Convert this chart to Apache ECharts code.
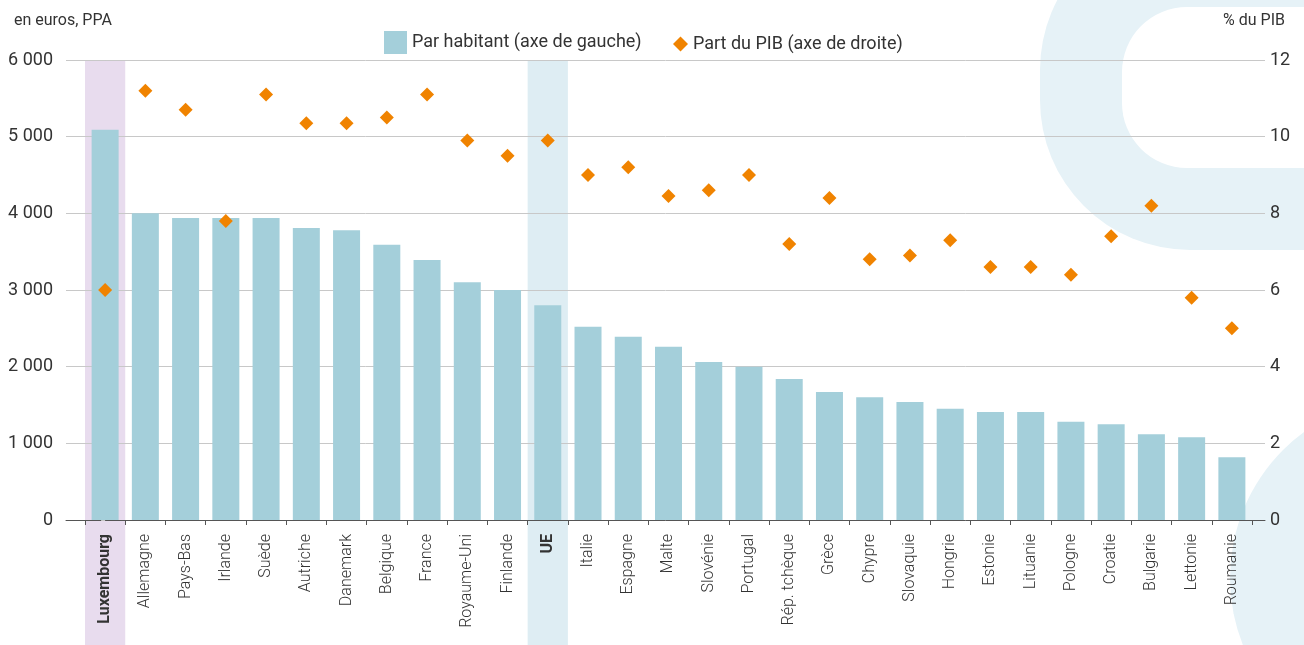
<!DOCTYPE html>
<html>
<head>
<meta charset="utf-8">
<script src="https://cdn.jsdelivr.net/npm/echarts@6/dist/echarts.min.js"></script>
<style>
html, body {margin: 0; padding: 0; background: #fff;}
#main {width: 1304px; height: 645px;}
</style>
</head>
<body>
<div id="main"></div>
<script>
// pays, triés par dépense par habitant
var categories = ['Luxembourg', 'Allemagne', 'Pays-Bas', 'Irlande', 'Suède', 'Autriche', 'Danemark', 'Belgique',
    'France', 'Royaume-Uni', 'Finlande', 'UE', 'Italie', 'Espagne', 'Malte', 'Slovénie', 'Portugal',
    'Rép. tchèque', 'Grèce', 'Chypre', 'Slovaquie', 'Hongrie', 'Estonie', 'Lituanie', 'Pologne', 'Croatie',
    'Bulgarie', 'Lettonie', 'Roumanie'];
// en euros, PPA (axe de gauche)
var parHabitant = [5090, 4000, 3940, 3940, 3940, 3810, 3780, 3590, 3390, 3100, 3000, 2800, 2520, 2390, 2260,
    2060, 2000, 1840, 1670, 1600, 1540, 1450, 1410, 1410, 1280, 1250, 1120, 1080, 820];
// % du PIB (axe de droite)
var partPib = [6.0, 11.2, 10.7, 7.8, 11.1, 10.35, 10.35, 10.5, 11.1, 9.9, 9.5, 9.9, 9.0, 9.2, 8.45, 8.6, 9.0,
    7.2, 8.4, 6.8, 6.9, 7.3, 6.6, 6.6, 6.4, 7.4, 8.2, 5.8, 5.0];
var leftTicks = [0, 1000, 2000, 3000, 4000, 5000, 6000];
var rightTicks = [0, 2, 4, 6, 8, 10, 12];
var highlighted = ['Luxembourg', 'UE'];

var FONT = 'Roboto';
var TXT = '#333';

var barData = [];
var dotData = [];
var labelPos = [];
var tickPos = [];
for (var i = 0; i < categories.length; i++) {
    barData.push([i, parHabitant[i]]);
    dotData.push([i, partPib[i]]);
    labelPos.push(i);
    tickPos.push(i - 0.5);
}
tickPos.push(categories.length - 0.5);

function fmtThousands(v) {
    return String(v).replace(/\B(?=(\d{3})+(?!\d))/g, ' ');
}

var dom = document.getElementById('main');
var myChart = echarts.init(dom);

var option = {
    animation: false,
    textStyle: {fontFamily: FONT, color: TXT},
    title: [
        {text: 'en euros, PPA', left: 9, top: 8, textStyle: {fontFamily: FONT, fontSize: 16, fontWeight: 'normal', color: TXT}},
        {text: '% du PIB', right: 14, top: 8, textStyle: {fontFamily: FONT, fontSize: 16, fontWeight: 'normal', color: TXT}}
    ],
    legend: [
        {
            data: [{name: 'Par habitant (axe de gauche)', icon: 'rect'}],
            left: 379, top: 26,
            itemWidth: 23, itemHeight: 23,
            textStyle: {fontFamily: FONT, fontSize: 18, color: TXT}
        },
        {
            data: [{name: 'Part du PIB (axe de droite)', icon: 'diamond'}],
            left: 668, top: 30,
            itemWidth: 15, itemHeight: 15,
            textStyle: {fontFamily: FONT, fontSize: 18, color: TXT}
        }
    ],
    grid: {left: 66, right: 39, top: 60, bottom: 125},
    xAxis: {
        type: 'value',
        min: -0.972,
        max: 28.823,
        splitLine: {show: false},
        axisLine: {show: true, lineStyle: {color: '#555', width: 1}},
        axisTick: {show: true, customValues: tickPos, length: 5, lineStyle: {color: '#555'}},
        axisLabel: {
            customValues: labelPos,
            rotate: 90,
            margin: 14,
            fontFamily: FONT,
            fontSize: 16,
            fontWeight: 300,
            color: TXT,
            formatter: function (v) {
                var name = categories[Math.round(v)];
                if (highlighted.indexOf(name) >= 0) {
                    return '{b|' + name + '}';
                }
                return name;
            },
            rich: {b: {fontWeight: 'bold', fontFamily: FONT, fontSize: 16, color: TXT}}
        }
    },
    yAxis: [
        {
            type: 'value',
            min: 0, max: 6000, interval: 1000,
            axisLine: {show: false},
            axisTick: {show: true, length: 4, lineStyle: {color: '#c8c8c8'}},
            splitLine: {show: true, lineStyle: {color: '#c8c8c8', width: 1}},
            axisLabel: {
                fontFamily: FONT, fontSize: 18, color: TXT, margin: 13,
                formatter: function (v) { return fmtThousands(v); }
            }
        },
        {
            type: 'value',
            min: 0, max: 12, interval: 2,
            position: 'right',
            axisLine: {show: false},
            axisTick: {show: false},
            splitLine: {show: false},
            axisLabel: {fontFamily: FONT, fontSize: 18, color: TXT, margin: 5}
        }
    ],
    series: [
        {
            name: 'Par habitant (axe de gauche)',
            type: 'bar',
            yAxisIndex: 0,
            barWidth: 27,
            itemStyle: {color: '#a4cfda'},
            data: barData
        },
        {
            name: 'Part du PIB (axe de droite)',
            type: 'scatter',
            yAxisIndex: 1,
            symbol: 'diamond',
            symbolSize: 14,
            itemStyle: {color: '#f08300', opacity: 1},
            z: 5,
            data: dotData
        }
    ]
};

myChart.setOption(option);

// fond décoratif + bandes de mise en évidence (Luxembourg, UE)
var deco = '#e6f2f7';
var elements = [
    {type: 'rect', z: -30, shape: {x: 1040, y: -80, width: 500, height: 330, r: 150}, style: {fill: deco}},
    {type: 'rect', z: -29, shape: {x: 1122, y: 7, width: 400, height: 161, r: 65}, style: {fill: '#fff'}},
    {type: 'circle', z: -30, shape: {cx: 1411, cy: 578, r: 181}, style: {fill: deco}}
];
var bandColors = {'Luxembourg': '#e8dcee', 'UE': '#deedf3'};
for (var k = 0; k < highlighted.length; k++) {
    var idx = categories.indexOf(highlighted[k]);
    var x0 = myChart.convertToPixel({xAxisIndex: 0}, idx - 0.5);
    var x1 = myChart.convertToPixel({xAxisIndex: 0}, idx + 0.5);
    var yTop = myChart.convertToPixel({yAxisIndex: 0}, leftTicks[leftTicks.length - 1]);
    elements.push({
        type: 'rect', z: -10,
        shape: {x: x0, y: yTop, width: x1 - x0, height: 645 - yTop},
        style: {fill: bandColors[highlighted[k]]}
    });
}
myChart.setOption({graphic: {elements: elements}});
</script>
</body>
</html>
